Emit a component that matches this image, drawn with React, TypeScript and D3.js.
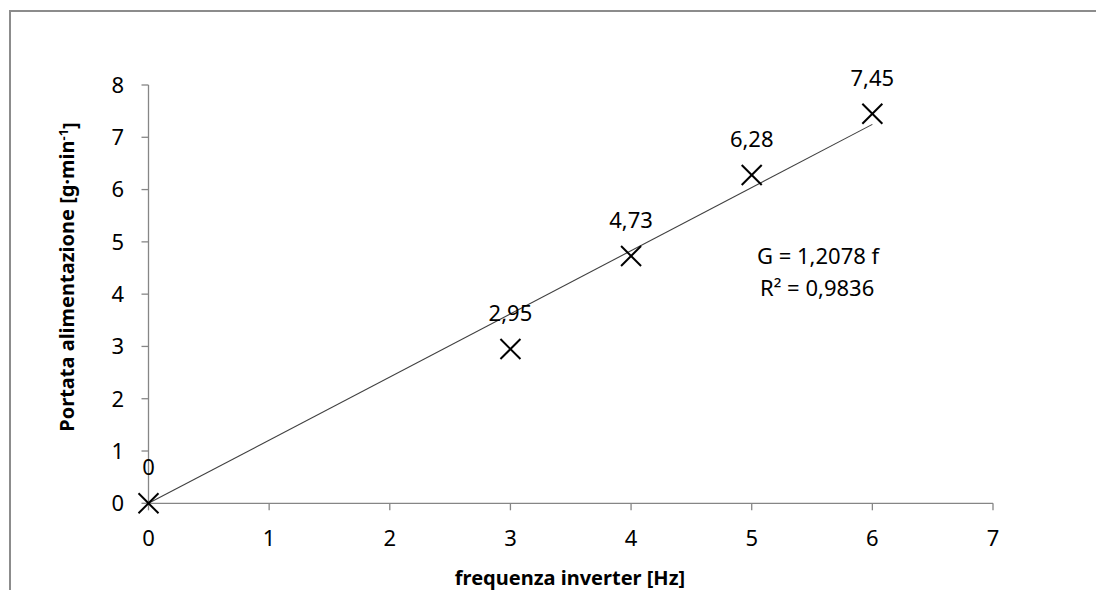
import React from "react";
import * as d3 from "d3";

const freqHz = [0, 3, 4, 5, 6];
const portata = [0, 2.95, 4.73, 6.28, 7.45];
const pointLabels = ["0", "2,95", "4,73", "6,28", "7,45"];
const xTicks = [0, 1, 2, 3, 4, 5, 6, 7];
const yTicks = [0, 1, 2, 3, 4, 5, 6, 7, 8];
const slope = 1.2078;
const eqLines = ["G = 1,2078 f", "R² = 0,9836"];

const FONT = "'Noto Sans', 'Open Sans', sans-serif";

export default function App() {
  const W = 1096, H = 590;
  const x = d3.scaleLinear().domain([0, 7]).range([148.5, 993]);
  const y = d3.scaleLinear().domain([0, 8]).range([503.3, 85]);
  const axisColor = "#868686";
  const trend = d3.line<number>().x((d) => x(d)).y((d) => y(d * slope));
  const m = 10;
  return (
    <svg width={W} height={H} style={{ position: "fixed", left: 0, top: 0, background: "#fff" }}>
      <rect x={10} y={11} width={1200} height={700} fill="#fff" stroke="#8c8c8c" strokeWidth={2} />
      {/* trendline */}
      <path d={trend([0, 6]) || ""} fill="none" stroke="#404040" strokeWidth={1.1} />
      {/* y axis */}
      <line x1={x(0)} x2={x(0)} y1={y(8)} y2={y(0)} stroke={axisColor} strokeWidth={1.3} />
      {yTicks.map((t) => (
        <g key={"y" + t}>
          <line x1={x(0) - 7} x2={x(0)} y1={y(t)} y2={y(t)} stroke={axisColor} strokeWidth={1.3} />
          <text x={124} y={y(t)} dy="0.36em" textAnchor="end" fontFamily={FONT} fontSize={22} fill="#000">
            {t}
          </text>
        </g>
      ))}
      {/* x axis */}
      <line x1={x(0)} x2={x(7)} y1={y(0)} y2={y(0)} stroke={axisColor} strokeWidth={1.3} />
      {xTicks.map((t) => (
        <g key={"x" + t}>
          <line x1={x(t)} x2={x(t)} y1={y(0)} y2={y(0) + 7} stroke={axisColor} strokeWidth={1.3} />
          <text x={x(t)} y={538} dy="0.36em" textAnchor="middle" fontFamily={FONT} fontSize={22} fill="#000">
            {t}
          </text>
        </g>
      ))}
      {/* markers */}
      {freqHz.map((f, i) => (
        <g key={"p" + i}>
          <line x1={x(f) - m} x2={x(f) + m} y1={y(portata[i]) - m} y2={y(portata[i]) + m} stroke="#000" strokeWidth={2} />
          <line x1={x(f) - m} x2={x(f) + m} y1={y(portata[i]) + m} y2={y(portata[i]) - m} stroke="#000" strokeWidth={2} />
          <text x={x(f)} y={y(portata[i]) - 36} dy="0.36em" textAnchor="middle" fontFamily={FONT} fontSize={22} fill="#000">
            {pointLabels[i]}
          </text>
        </g>
      ))}
      {/* equation */}
      {eqLines.map((s, i) => (
        <text key={"eq" + i} x={757 + i * 3} y={256 + i * 32} dy="0.36em" fontFamily={FONT} fontSize={22} fill="#000">
          {s}
        </text>
      ))}
      {/* axis titles */}
      <text x={570} y={578} dy="0.36em" textAnchor="middle" fontFamily={FONT} fontSize={20} fontWeight="bold" fill="#000">
        frequenza inverter [Hz]
      </text>
      <text transform={`translate(67,277) rotate(-90)`} textAnchor="middle" dy="0.36em" fontFamily={FONT} fontSize={20} fontWeight="bold" fill="#000">
        Portata alimentazione [g·min
        <tspan dy="-0.45em" fontSize={13}>-1</tspan>
        <tspan dy="0.45em">]</tspan>
      </text>
    </svg>
  );
}
